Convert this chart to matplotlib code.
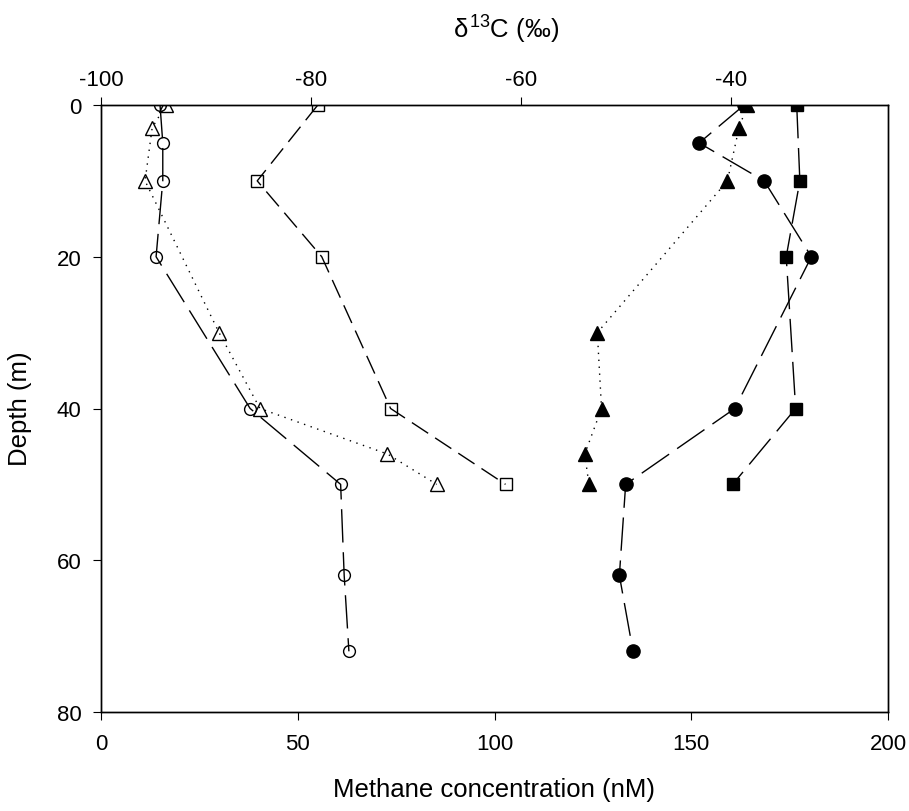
import matplotlib
matplotlib.use("Agg")
import matplotlib.pyplot as plt

plt.rcParams["font.family"] = ["Liberation Sans", "DejaVu Sans"]
plt.rcParams["mathtext.fontset"] = "custom"
plt.rcParams["mathtext.rm"] = "Liberation Sans"
plt.rcParams["mathtext.it"] = "Liberation Sans"
plt.rcParams["axes.unicode_minus"] = False

# methane concentration profiles (nM), open symbols, bottom axis
circ_depth = [0, 5, 10, 20, 40, 50, 62, 72]
circ_conc = [15.0, 15.7, 15.7, 14.0, 37.9, 60.9, 61.8, 63.0]
tri_depth = [0, 3, 10, 30, 40, 46, 50]
tri_conc = [16.5, 13.0, 11.2, 30.0, 40.4, 72.8, 85.3]
sq_depth = [0, 10, 20, 40, 50]
sq_conc = [55.1, 39.7, 56.1, 73.6, 102.8]

# delta 13C of methane (permil), filled symbols, top axis
circ_d13c = [-38.7, -43.0, -36.8, -32.3, -39.6, -50.0, -50.6, -49.3]
tri_d13c = [-38.4, -39.2, -40.3, -52.7, -52.3, -53.9, -53.5]
sq_d13c = [-33.7, -33.4, -34.7, -33.8, -39.8]

conc_ticks = [0, 50, 100, 150, 200]
d13c_ticks = [-100, -80, -60, -40]
depth_ticks = [0, 20, 40, 60, 80]

fig = plt.figure(figsize=(9.09, 8.12), dpi=100)
ax = fig.add_axes([101 / 909, 1 - 713 / 812, 787 / 909, 607 / 812])
ax2 = ax.twiny()

lw = 1.0
long_dash = (24, 7)
mid_dash = (14, 6)
dots = (1, 4)

# open symbols -> concentration
ax.plot(circ_conc, circ_depth, color="black", lw=lw, dashes=long_dash,
        marker="o", ms=8.5, mfc="none", mec="black", mew=1.0)
ax.plot(tri_conc, tri_depth, color="black", lw=lw, dashes=dots,
        marker="^", ms=10, mfc="none", mec="black", mew=1.0)
ax.plot(sq_conc, sq_depth, color="black", lw=lw, dashes=mid_dash,
        marker="s", ms=9, mfc="none", mec="black", mew=1.0)

# filled symbols -> d13C
ax2.plot(circ_d13c, circ_depth, color="black", lw=lw, dashes=long_dash,
         marker="o", ms=9.5, mfc="black", mec="black")
ax2.plot(tri_d13c, tri_depth, color="black", lw=lw, dashes=dots,
         marker="^", ms=10.5, mfc="black", mec="black")
ax2.plot(sq_d13c, sq_depth, color="black", lw=lw, dashes=long_dash,
         marker="s", ms=9, mfc="black", mec="black")

ax.set_xlim(0, 200)
ax.set_ylim(80, 0)
ax2.set_xlim(-100, -25)
ax.set_xticks(conc_ticks)
ax.set_yticks(depth_ticks)
ax2.set_xticks(d13c_ticks)

for a in (ax, ax2):
    for s in a.spines.values():
        s.set_linewidth(1.0)
ax.tick_params(axis="x", direction="out", length=6, width=0.8, labelsize=16, pad=9)
ax.tick_params(axis="y", direction="out", length=6, width=0.8, labelsize=16, pad=8)
ax2.tick_params(axis="x", direction="out", length=6, width=0.8, labelsize=16, pad=5)

fig.text(494 / 909, 1 - 790 / 812, "Methane concentration (nM)",
         ha="center", va="center", fontsize=18.5)
fig.text(20 / 909, 1 - 409 / 812, "Depth (m)", rotation=90,
         ha="center", va="center", fontsize=18.5)
fig.text(506 / 909, 1 - 30 / 812, r"$\delta^{13}$C (‰)",
         ha="center", va="center", fontsize=18.5)

fig.savefig("out.png", dpi=100)
